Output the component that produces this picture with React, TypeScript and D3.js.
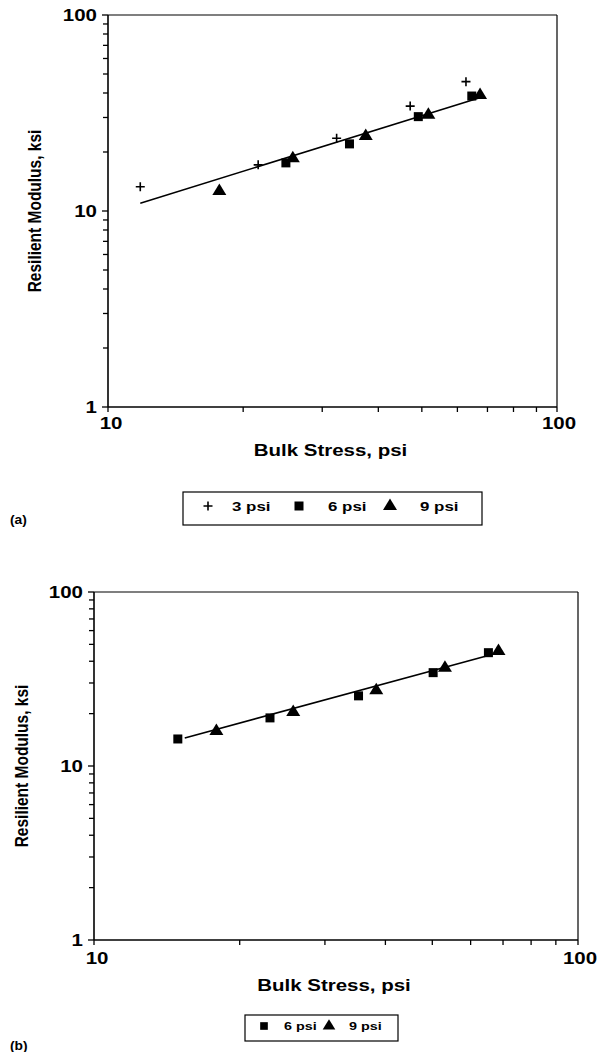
import React from 'react';
import * as d3 from 'd3';

// Panel (a) data
const bulkA3 = [11.8, 21.6, 32.3, 47.1, 62.7];
const modA3 = [13.3, 17.2, 23.5, 34.3, 45.7];
const bulkA6 = [24.9, 34.5, 49.1, 64.6];
const modA6 = [17.6, 22.0, 30.3, 38.6];
const bulkA9 = [17.7, 25.8, 37.5, 51.7, 67.4];
const modA9 = [12.8, 18.8, 24.4, 31.3, 39.5];
const fitA = { k: 1.89, n: 0.712, from: 11.8, to: 68.4 };

// Panel (b) data
const bulkB6 = [14.9, 23.1, 35.2, 50.2, 65.3];
const modB6 = [14.3, 18.9, 25.3, 34.4, 44.8];
const bulkB9 = [17.9, 25.8, 38.3, 53.1, 68.5];
const modB9 = [16.1, 20.7, 27.6, 37.2, 46.4];
const fitB = { k: 1.84, n: 0.755, from: 15.4, to: 70.0 };

const xTicks = [10, 20, 30, 40, 50, 60, 70, 80, 90, 100];
const yTicks = [1, 2, 3, 4, 5, 6, 7, 8, 9, 10, 20, 30, 40, 50, 60, 70, 80, 90, 100];
const majorLabels = [1, 10, 100];
const xTitle = 'Bulk Stress, psi';
const yTitle = 'Resilient Modulus, ksi';
const legendA = ['3 psi', '6 psi', '9 psi'];
const legendB = ['6 psi', '9 psi'];

const FONT = '"Liberation Sans", Arial, Helvetica, sans-serif';
const SX = 1.28; // horizontal stretch of the scanned lettering

function SText({ x, y, size, anchor = 'start', children, sx = SX, baseline = 'auto' }: any) {
  return (
    <text
      transform={`translate(${x},${y}) scale(${sx},1)`}
      textAnchor={anchor}
      dominantBaseline={baseline}
      fontSize={size}
      fontWeight="bold"
      fontFamily={FONT}
      fill="#000"
    >
      {children}
    </text>
  );
}

type Series = { kind: 'plus' | 'square' | 'tri'; xs: number[]; ys: number[] };

function Marker({ kind, x, y, s = 1 }: { kind: string; x: number; y: number; s?: number }) {
  if (kind === 'plus') {
    const r = 4.5 * s;
    return <path d={`M${x - r},${y}H${x + r}M${x},${y - r}V${y + r}`} stroke="#000" strokeWidth={1.6} fill="none" />;
  }
  if (kind === 'square') {
    const r = 4.5 * s;
    return <rect x={x - r} y={y - r} width={2 * r} height={2 * r} fill="#000" />;
  }
  return <path d={`M${x},${y - 6.5 * s}L${x + 7 * s},${y + 5 * s}L${x - 7 * s},${y + 5 * s}Z`} fill="#000" />;
}

function Panel({
  x0, x1, y0, y1, series, fit, yTitleX, titleY, xLabelY,
}: {
  x0: number; x1: number; y0: number; y1: number; series: Series[];
  fit: { k: number; n: number; from: number; to: number }; yTitleX: number; titleY: number; xLabelY: number;
}) {
  const xs = d3.scaleLog().domain([10, 100]).range([x0, x1]);
  const ys = d3.scaleLog().domain([1, 100]).range([y1, y0]);
  const fitPts: [number, number][] = [fit.from, fit.to].map((b) => [b, fit.k * Math.pow(b, fit.n)]);
  const line = d3.line<[number, number]>().x((d) => xs(d[0])).y((d) => ys(d[1]));
  return (
    <g>
      <line x1={x0} x2={x1} y1={y0} y2={y0} stroke="#000" strokeWidth={1.2} />
      <line x1={x1} x2={x1} y1={y0} y2={y1} stroke="#000" strokeWidth={1.2} />
      <line x1={x0} x2={x0} y1={y0} y2={y1} stroke="#000" strokeWidth={1.6} />
      <line x1={x0} x2={x1} y1={y1} y2={y1} stroke="#000" strokeWidth={1.6} />
      {yTicks.map((t) => (
        <line key={'y' + t} x1={x0 - (majorLabels.includes(t) ? 6 : 5)} x2={x0} y1={ys(t)} y2={ys(t)} stroke="#000" strokeWidth={1.3} />
      ))}
      {xTicks.map((t) => (
        <line key={'x' + t} x1={xs(t)} x2={xs(t)} y1={y1} y2={y1 + 5} stroke="#000" strokeWidth={1.3} />
      ))}
      {majorLabels.map((t) => (
        <SText key={'yl' + t} x={x0 - 11} y={ys(t) + 6} size={16} anchor="end">{t}</SText>
      ))}
      {[10, 100].map((t) => (
        <SText key={'xl' + t} x={xs(t) + (t === 10 ? 3 : 2)} y={xLabelY} size={16} anchor="middle">{t}</SText>
      ))}
      <SText x={(x0 + x1) / 2 - 2} y={titleY} size={16} anchor="middle">{xTitle}</SText>
      <text
        transform={`translate(${yTitleX},${(y0 + y1) / 2}) rotate(-90) scale(1,1.15)`}
        textAnchor="middle"
        dominantBaseline="central"
        fontSize={15.5}
        fontWeight="bold"
        fontFamily={FONT}
      >
        {yTitle}
      </text>
      <path d={line(fitPts) || ''} stroke="#000" strokeWidth={1.6} fill="none" />
      {series.map((s, i) =>
        s.xs.map((b, j) => <Marker key={i + '-' + j} kind={s.kind} x={xs(b)} y={ys(s.ys[j])} />)
      )}
    </g>
  );
}

export default function App() {
  return (
    <svg width={601} height={1052} style={{ position: 'absolute', left: 0, top: 0, background: '#fff' }}>
      <rect width={601} height={1052} fill="#fff" />
      <Panel
        x0={108} x1={557} y0={15} y1={407}
        yTitleX={35} titleY={456} xLabelY={429}
        fit={fitA}
        series={[
          { kind: 'plus', xs: bulkA3, ys: modA3 },
          { kind: 'square', xs: bulkA6, ys: modA6 },
          { kind: 'tri', xs: bulkA9, ys: modA9 },
        ]}
      />
      <g>
        <rect x={183} y={492} width={299} height={33} fill="none" stroke="#000" strokeWidth={1.2} />
        <Marker kind="plus" x={208} y={506} />
        <SText x={232} y={511} size={13} sx={1.3}>{legendA[0]}</SText>
        <Marker kind="square" x={299} y={506} />
        <SText x={328} y={511} size={13} sx={1.3}>{legendA[1]}</SText>
        <Marker kind="tri" x={390} y={505} />
        <SText x={420} y={511} size={13} sx={1.3}>{legendA[2]}</SText>
      </g>
      <SText x={10} y={524} size={12} sx={1.15}>(a)</SText>

      <Panel
        x0={94} x1={578} y0={592} y1={940}
        yTitleX={22} titleY={991} xLabelY={964}
        fit={fitB}
        series={[
          { kind: 'square', xs: bulkB6, ys: modB6 },
          { kind: 'tri', xs: bulkB9, ys: modB9 },
        ]}
      />
      <g>
        <rect x={245} y={1015} width={153} height={26} fill="none" stroke="#000" strokeWidth={1.2} />
        <Marker kind="square" x={264} y={1026} s={0.85} />
        <SText x={284} y={1030} size={11.5} sx={1.25}>{legendB[0]}</SText>
        <Marker kind="tri" x={329} y={1025} s={0.9} />
        <SText x={349} y={1030} size={11.5} sx={1.25}>{legendB[1]}</SText>
      </g>
      <SText x={10} y={1050} size={12} sx={1.15}>(b)</SText>
    </svg>
  );
}
